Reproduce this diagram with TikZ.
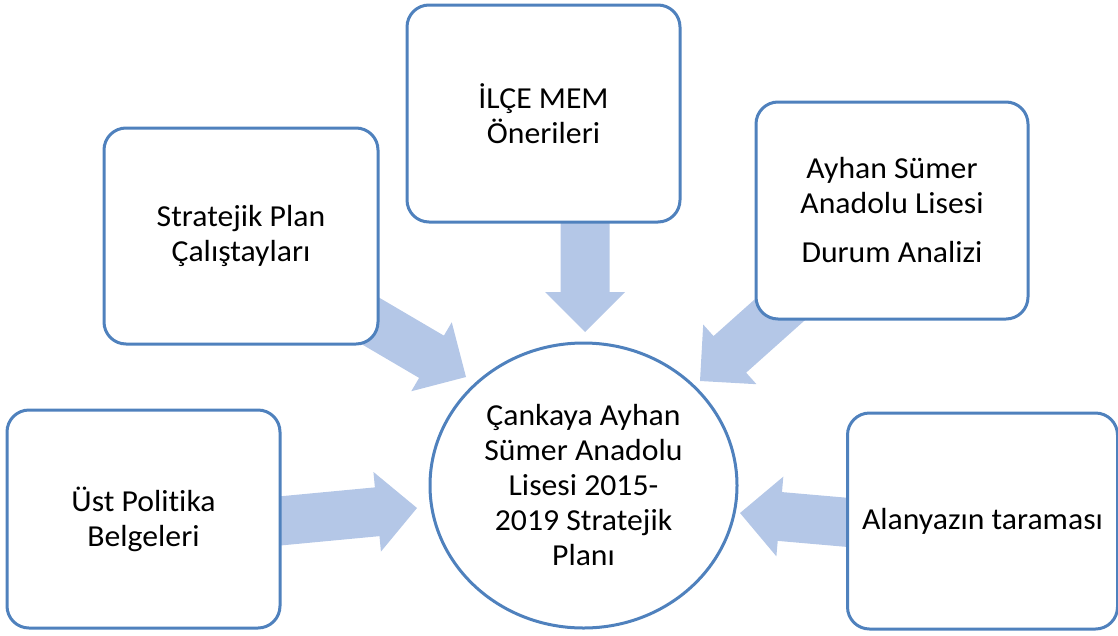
\documentclass[tikz,border=0pt]{standalone}
\usepackage{fontspec}
\setmainfont{Carlito}[FakeStretch=1.04, Ligatures=NoCommon]
\usetikzlibrary{calc,shapes.geometric}
\definecolor{boxline}{RGB}{79,129,189}
\definecolor{arrowfill}{RGB}{180,199,231}
\tikzset{
  box/.style={draw=boxline, line width=3pt, rounded corners=22pt, fill=white,
    align=center, inner sep=0pt, font=\fontsize{30.5}{35}\selectfont},
  hub/.style={ellipse, draw=boxline, line width=3pt, fill=white,
    align=center, inner sep=0pt, font=\fontsize{30.5}{35}\selectfont},
  barrow/.style={fill=arrowfill}
}
\newcommand{\blockarrow}[2]{%
  \coordinate (#2h) at ($(#2)!40pt!(#1)$);
  \fill[barrow] ($(#1)!24.5pt!90:(#2)$) -- ($(#2h)!24.5pt!90:(#2)$)
    -- ($(#2h)!40pt!90:(#2)$) -- (#2) -- ($(#2h)!40pt!-90:(#2)$)
    -- ($(#2h)!24.5pt!-90:(#2)$) -- ($(#1)!24.5pt!-90:(#2)$) -- cycle;
}
\begin{document}
\begin{tikzpicture}[x=1pt,y=-1pt]
\useasboundingbox (0,0) rectangle (1118,635);
% arrow end points
\coordinate (a1s) at (345,306); \coordinate (a1e) at (466,377);
\coordinate (a2s) at (585,200); \coordinate (a2e) at (585,332);
\coordinate (a3s) at (812,281); \coordinate (a3e) at (700,381);
\coordinate (a4s) at (258,523); \coordinate (a4e) at (417,508);
\coordinate (a5s) at (889,526); \coordinate (a5e) at (740,513);
\blockarrow{a1s}{a1e}
\blockarrow{a2s}{a2e}
\blockarrow{a3s}{a3e}
\blockarrow{a4s}{a4e}
\blockarrow{a5s}{a5e}
% boxes
\node[box, minimum width=274pt, minimum height=216pt] (b1) at (241,236) {Stratejik Plan\\Çalıştayları};
\node[box, minimum width=273pt, minimum height=217pt] (b2) at (543.5,113.5) {İLÇE MEM\\Önerileri};
\node[box, minimum width=272pt, minimum height=217pt] (b3) at (892,210.5) {Ayhan Sümer\\Anadolu Lisesi\\[14pt]Durum Analizi};
\node[box, minimum width=273pt, minimum height=218pt] (b4) at (143.5,519) {Üst Politika\\Belgeleri};
\node[box, minimum width=270pt, minimum height=216pt] (b5) at (982.5,521) {Alanyazın taraması};
\node[hub, minimum width=307pt, minimum height=285pt] (hub) at (583.5,485.5) {Çankaya Ayhan\\Sümer Anadolu\\Lisesi 2015-\\2019 Stratejik\\Planı};
\end{tikzpicture}
\end{document}
